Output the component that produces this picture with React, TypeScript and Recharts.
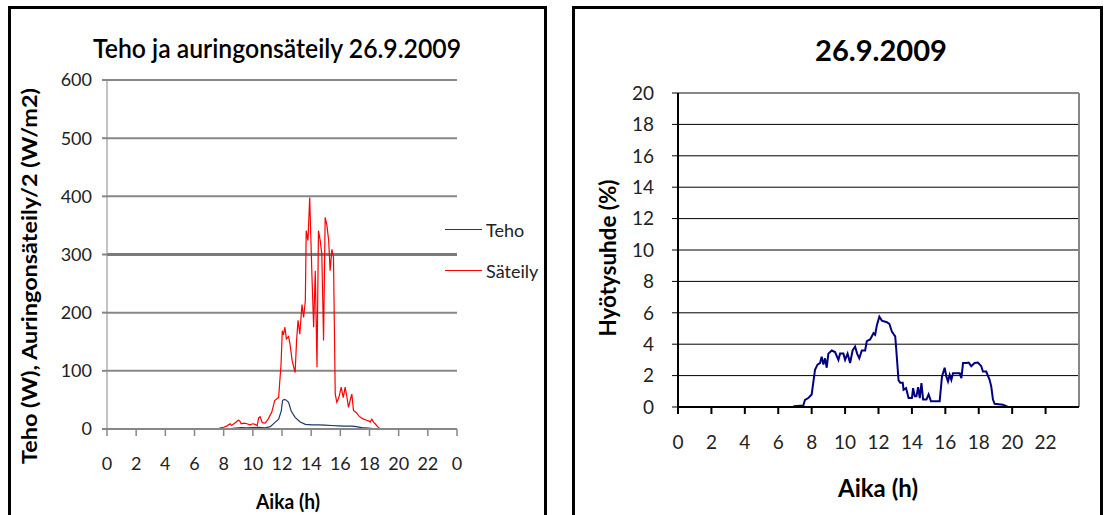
import React from "react";
import { LineChart, Line, XAxis, YAxis, CartesianGrid, Legend, Label, ReferenceLine } from "recharts";

const FONT = "Lato, 'Liberation Sans', sans-serif";

// Säteily (auringonsäteily / 2, W/m2) – hour of day, value
const SAT_HOURS = [
  7.55, 7.8, 8.0, 8.2, 8.45, 8.55, 8.75, 8.9, 9.0, 9.1, 9.2, 9.4, 9.6, 9.8, 10.0, 10.15, 10.3, 10.4, 10.5,
  10.65, 10.85, 11.05, 11.3, 11.5, 11.65, 11.77, 11.85, 11.93, 12.02, 12.1, 12.2, 12.3, 12.45, 12.55, 12.7,
  12.9, 13.0, 13.1, 13.22, 13.37, 13.48, 13.6, 13.66, 13.78, 13.9, 14.05, 14.17, 14.28, 14.4, 14.5, 14.62,
  14.73, 14.85, 14.96, 15.08, 15.2, 15.3, 15.42, 15.53, 15.65, 15.76, 15.9, 16.06, 16.2, 16.33, 16.45, 16.56,
  16.7, 16.79, 16.9, 17.1, 17.25, 17.45, 17.6, 17.8, 17.93, 18.05, 18.16, 18.3, 18.39, 18.55, 18.73,
];
const SAT_VALUES = [
  0, 2, 3, 5, 9, 6, 10, 13, 15, 14, 9, 10, 9, 7, 9, 8, 6, 19, 21,
  11, 10, 17, 29, 49, 52, 54, 83, 109, 169, 162, 175, 155, 159, 146, 117,
  97, 152, 187, 163, 214, 192, 220, 341, 324, 398, 266, 175, 272, 106, 341, 324,
  301, 152, 364, 350, 324, 272, 309, 295, 60, 46, 54, 72, 54, 72, 55, 37,
  52, 60, 32, 28, 23, 19, 17, 15, 14, 12, 17, 11, 9, 4, 0,
];

// Teho (W)
const TEHO_HOURS = [
  8.45, 8.8, 9.2, 9.6, 10.0, 10.4, 10.85, 11.2, 11.5, 11.77, 11.95, 12.04, 12.15, 12.27, 12.45, 12.63,
  12.9, 13.25, 13.6, 14.05, 14.5, 14.96, 15.4, 15.88, 16.3, 16.79, 17.1, 17.47, 17.9, 18.27,
];
const TEHO_VALUES = [
  0.5, 1.5, 2.5, 2, 2.5, 3, 2, 4, 11, 17, 31, 49, 51, 50, 46, 31,
  20, 12, 8, 7, 7, 6.5, 6, 5.5, 5, 5, 4, 2.5, 1.5, 0.8,
];

// Hyötysuhde (%)
const HYO_HOURS = [
  0, 6.9, 6.95, 7.5, 7.6, 7.8, 8.0, 8.2, 8.35, 8.5, 8.6, 8.7, 8.8, 8.9, 9.0, 9.2, 9.4, 9.6, 9.7, 9.9,
  10.0, 10.15, 10.3, 10.45, 10.6, 10.72, 10.85, 11.0, 11.2, 11.3, 11.5, 11.7, 11.8, 11.9, 12.05, 12.2,
  12.5, 12.65, 12.8, 13.0, 13.05, 13.2, 13.3, 13.45, 13.5, 13.65, 13.8, 14.0, 14.07, 14.17, 14.27, 14.37,
  14.47, 14.57, 14.67, 14.87, 15.0, 15.14, 15.66, 15.8, 15.96, 16.06, 16.16, 16.26, 16.36, 16.46, 16.66,
  16.86, 16.96, 17.06, 17.26, 17.4, 17.55, 17.75, 17.95, 18.15, 18.25, 18.45, 18.65, 18.75, 18.85, 18.95,
  19.45, 19.75, 24,
];
const HYO_VALUES = [
  0, 0, 0.05, 0.1, 0.45, 0.57, 0.8, 2.37, 2.7, 2.8, 3.2, 2.7, 3.1, 2.5, 3.4, 3.6, 3.5, 3.0, 3.4, 3.4,
  3.0, 3.4, 2.8, 3.6, 3.85, 3.4, 3.1, 3.6, 3.6, 4.2, 4.3, 4.7, 4.6, 5.2, 5.75, 5.5,
  5.4, 5.3, 4.8, 4.5, 3.85, 1.7, 1.55, 1.55, 1.1, 1.2, 0.57, 0.57, 1.2, 0.68, 0.68, 1.27,
  0.57, 1.52, 0.47, 0.47, 0.8, 0.36, 0.36, 1.95, 2.5, 1.95, 1.63, 2.05, 1.73, 2.15, 2.15,
  2.15, 1.84, 2.8, 2.8, 2.83, 2.6, 2.8, 2.83, 2.6, 2.26, 2.26, 1.73, 1.3, 0.47, 0.2,
  0.15, 0, 0,
];

const HOUR_TICKS = [0, 2, 4, 6, 8, 10, 12, 14, 16, 18, 20, 22, 24];
const HOUR_TICKS_RIGHT = [0, 2, 4, 6, 8, 10, 12, 14, 16, 18, 20, 22];
const LEFT_Y_TICKS = [0, 100, 200, 300, 400, 500, 600];
const RIGHT_Y_TICKS = [0, 2, 4, 6, 8, 10, 12, 14, 16, 18, 20];

const zip = (xs: number[], ys: number[]) => xs.map((h, i) => ({ h, v: ys[i] }));
const satData = zip(SAT_HOURS, SAT_VALUES);
const tehoData = zip(TEHO_HOURS, TEHO_VALUES);
const hyoData = zip(HYO_HOURS, HYO_VALUES);

const TEHO_COLOR = "#1f3864";
const SAT_COLOR = "#ff0000";
const HYO_COLOR = "#000080";
const GRID_GRAY = "#878787";

const panelStyle = (left: number, width: number): React.CSSProperties => ({
  position: "absolute",
  left,
  top: 6,
  width,
  height: 520,
  border: "3px solid #000",
  borderBottom: "none",
  boxSizing: "border-box",
});

// axis title drawn as plain svg text, stretched to a fixed length
function AxisTitle({ x, y, text, size, length, rotate = false }: {
  x: number; y: number; text: string; size: number; length: number; rotate?: boolean;
}) {
  return (
    <text x={x} y={y} textAnchor="middle" dominantBaseline="central"
      transform={rotate ? `rotate(-90 ${x} ${y})` : undefined}
      textLength={length} lengthAdjust="spacingAndGlyphs"
      style={{ fontFamily: FONT, fontSize: size, fontWeight: 700, fill: "#000" }}>
      {text}
    </text>
  );
}

function LegendBox() {
  const items = [
    { name: "Teho", color: TEHO_COLOR },
    { name: "Säteily", color: SAT_COLOR },
  ];
  return (
    <div style={{ fontFamily: FONT, fontSize: 18, color: "#222" }}>
      {items.map((it) => (
        <div key={it.name} style={{ display: "flex", alignItems: "center", height: 41 }}>
          <span style={{ display: "inline-block", width: 37, height: 1, background: it.color, marginRight: 4 }} />
          <span>{it.name}</span>
        </div>
      ))}
    </div>
  );
}

function LeftChart() {
  return (
    <LineChart width={560} height={515} margin={{ top: 80, right: 103, bottom: 0, left: 0 }}>
      <CartesianGrid vertical={false} stroke={GRID_GRAY} strokeWidth={2} />
      <XAxis
        type="number"
        dataKey="h"
        domain={[0, 24]}
        ticks={HOUR_TICKS}
        interval={0}
        allowDuplicatedCategory={false}
        height={86}
        tickSize={7}
        tickMargin={21}
        tick={{ fontSize: 18, fill: "#222", fontFamily: FONT }}
        tickLine={{ stroke: GRID_GRAY, strokeWidth: 1.5 }}
        axisLine={{ stroke: GRID_GRAY, strokeWidth: 2 }}
        tickFormatter={(v: number) => String(v % 24)}
      >
        <Label content={() => <AxisTitle x={288} y={500} text="Aika (h)" size={21} length={64} />} />
      </XAxis>
      <YAxis
        type="number"
        domain={[0, 600]}
        ticks={LEFT_Y_TICKS}
        interval={0}
        width={107}
        tickSize={5}
        tickMargin={10}
        tick={{ fontSize: 18, fill: "#222", fontFamily: FONT }}
        tickLine={{ stroke: GRID_GRAY, strokeWidth: 2 }}
        axisLine={{ stroke: GRID_GRAY, strokeWidth: 1 }}
      >
        <Label content={() => (
          <AxisTitle x={28} y={276} text="Teho (W), Auringonsäteily/2 (W/m2)" size={21} length={376} rotate />
        )} />
      </YAxis>
      <ReferenceLine y={300} stroke="#7a7a7a" strokeWidth={3} />
      <Legend
        layout="vertical"
        align="center"
        verticalAlign="middle"
        wrapperStyle={{ left: 445, top: 209, width: 110 }}
        content={() => <LegendBox />}
      />
      <Line data={tehoData} dataKey="v" name="Teho" type="linear" stroke={TEHO_COLOR} strokeWidth={1.2}
        dot={false} isAnimationActive={false} />
      <Line data={satData} dataKey="v" name="Säteily" type="linear" stroke={SAT_COLOR} strokeWidth={1.2}
        dot={false} isAnimationActive={false} />
    </LineChart>
  );
}

function RightChart() {
  return (
    <LineChart width={545} height={515} margin={{ top: 93, right: 26, bottom: 0, left: 0 }}>
      <CartesianGrid vertical={false} stroke="#000" strokeWidth={1} />
      <XAxis
        type="number"
        dataKey="h"
        domain={[0, 24]}
        ticks={HOUR_TICKS_RIGHT}
        interval={0}
        height={108}
        tickSize={7}
        tickMargin={22}
        tick={{ fontSize: 19, fill: "#222", fontFamily: FONT }}
        tickLine={{ stroke: "#000", strokeWidth: 2 }}
        axisLine={{ stroke: "#000", strokeWidth: 2 }}
      >
        <Label content={() => <AxisTitle x={318} y={487} text="Aika (h)" size={24} length={80} />} />
      </XAxis>
      <YAxis
        type="number"
        domain={[0, 20]}
        ticks={RIGHT_Y_TICKS}
        interval={0}
        width={118}
        tickSize={6}
        tickMargin={18}
        tick={{ fontSize: 19, fill: "#222", fontFamily: FONT }}
        tickLine={{ stroke: "#000", strokeWidth: 1 }}
        axisLine={{ stroke: "#000", strokeWidth: 2 }}
      >
        <Label content={() => <AxisTitle x={47} y={258} text="Hyötysuhde (%)" size={22} length={157} rotate />} />
      </YAxis>
      <ReferenceLine y={20} stroke={GRID_GRAY} strokeWidth={2} />
      <ReferenceLine x={24} stroke={GRID_GRAY} strokeWidth={2} />
      <Line data={hyoData} dataKey="v" type="linear" stroke={HYO_COLOR} strokeWidth={2}
        dot={false} isAnimationActive={false} />
    </LineChart>
  );
}

export default function App() {
  return (
    <div style={{ position: "absolute", left: 0, top: 0, width: 1105, height: 515, background: "#fff", overflow: "hidden" }}>
      <div style={panelStyle(8, 539)} />
      <div style={panelStyle(572, 531)} />
      <div style={{ position: "absolute", left: 0, top: 0 }}>
        <LeftChart />
      </div>
      <div style={{ position: "absolute", left: 560, top: 0 }}>
        <RightChart />
      </div>
      <svg width={1105} height={80} style={{ position: "absolute", left: 0, top: 0 }}>
        <text x={277} y={47} textAnchor="middle" dominantBaseline="central" textLength={368}
          lengthAdjust="spacingAndGlyphs" style={{ fontFamily: FONT, fontSize: 27, fontWeight: 600, fill: "#000" }}>
          Teho ja auringonsäteily 26.9.2009
        </text>
        <text x={881} y={50} textAnchor="middle" dominantBaseline="central" textLength={132}
          lengthAdjust="spacingAndGlyphs" style={{ fontFamily: FONT, fontSize: 28, fontWeight: 700, fill: "#000" }}>
          26.9.2009
        </text>
      </svg>
    </div>
  );
}
